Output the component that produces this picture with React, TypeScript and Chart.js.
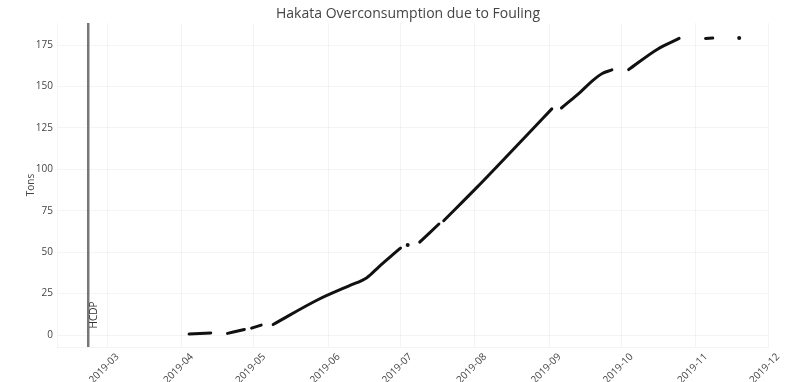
import React, { useEffect, useRef } from 'react';
import { Chart, registerables } from 'chart.js';

Chart.register(...registerables);

const TITLE = 'Hakata Overconsumption due to Fouling';
const Y_LABEL = 'Tons';
const MARKER_DATE = '2019-02-21';
const MARKER_LABEL = 'HCDP';

// Cumulative overconsumption readings; null marks a break in the record.
const dates = [
  '2019-04-04', '2019-04-13', '2019-04-16',
  '2019-04-20', '2019-04-27', '2019-04-28',
  '2019-04-30', '2019-05-04', '2019-05-06',
  '2019-05-09', '2019-05-28', '2019-06-10', '2019-06-17', '2019-06-22', '2019-06-29', '2019-07-01', '2019-07-02',
  '2019-07-04', '2019-07-06',
  '2019-07-09', '2019-07-17', '2019-07-18',
  '2019-07-19', '2019-08-02', '2019-08-21', '2019-09-02', '2019-09-04',
  '2019-09-06', '2019-09-14', '2019-09-19', '2019-09-23', '2019-09-27', '2019-09-30',
  '2019-10-04', '2019-10-16', '2019-10-25', '2019-10-30',
  '2019-11-05', '2019-11-08', '2019-11-12',
  '2019-11-19',
];
const tons: (number | null)[] = [
  0.6, 1.3, null,
  1.0, 3.4, null,
  4.2, 6.0, null,
  6.4, 21.6, 30.0, 34.6, 41.2, 50.0, 52.5, null,
  54.3, null,
  56.1, 67.0, null,
  69.0, 89.4, 118.2, 136.5, null,
  137.0, 146.8, 153.5, 157.8, 160.0, null,
  160.2, 172.5, 179.0, null,
  179.0, 179.2, null,
  179.3,
];

const monthTicks = [
  '2019-03-01', '2019-04-01', '2019-05-01', '2019-06-01', '2019-07-01',
  '2019-08-01', '2019-09-01', '2019-10-01', '2019-11-01', '2019-12-01',
];
const monthLabels = [
  '2019-03', '2019-04', '2019-05', '2019-06', '2019-07',
  '2019-08', '2019-09', '2019-10', '2019-11', '2019-12',
];
const yTicks = [0, 25, 50, 75, 100, 125, 150, 175];

const X_MIN = '2019-02-08';
const X_MAX = '2019-12-01';
const Y_MIN = -7.2;
const Y_MAX = 188.3;

// Days since 2019-01-01 for an ISO date string.
const dayNum = (s: string) => {
  const [y, m, d] = s.split('-').map(Number);
  return (Date.UTC(y, m - 1, d) - Date.UTC(2019, 0, 1)) / 86400000;
};

const FONT = '"Open Sans", "DejaVu Sans", sans-serif';
const TEXT = '#444';
const GRID = 'rgba(0,0,0,0.045)';

const overlay = {
  id: 'overlay',
  afterDatasetsDraw(chart: any) {
    const { ctx, chartArea, scales } = chart;
    const mx = scales.x.getPixelForValue(dayNum(MARKER_DATE));
    ctx.save();
    // marker line
    ctx.strokeStyle = '#777';
    ctx.lineWidth = 2.5;
    ctx.beginPath();
    ctx.moveTo(mx, chartArea.top);
    ctx.lineTo(mx, chartArea.bottom);
    ctx.stroke();
    // marker label
    ctx.fillStyle = '#333';
    ctx.font = `10px ${FONT}`;
    ctx.textAlign = 'center';
    ctx.textBaseline = 'middle';
    ctx.translate(mx + 6, 315);
    ctx.rotate(-Math.PI / 2);
    ctx.fillText(MARKER_LABEL, 0, 0);
    ctx.restore();

    ctx.save();
    // title
    ctx.fillStyle = TEXT;
    ctx.font = `14px ${FONT}`;
    ctx.textAlign = 'center';
    ctx.textBaseline = 'middle';
    ctx.fillText(TITLE, 408, 14);
    // y-axis title
    ctx.font = `10px ${FONT}`;
    ctx.translate(31, (chartArea.top + chartArea.bottom) / 2);
    ctx.rotate(-Math.PI / 2);
    ctx.fillText(Y_LABEL, 0, 0);
    ctx.restore();
  },
};

export default function App() {
  const ref = useRef<HTMLCanvasElement>(null);

  useEffect(() => {
    if (!ref.current) return;
    const points = dates.map((d, i) => ({ x: dayNum(d), y: tons[i] }));
    const monthValues = monthTicks.map(dayNum);

    const chart = new Chart(ref.current, {
      type: 'line',
      data: {
        datasets: [
          {
            data: points as any,
            borderColor: '#111',
            backgroundColor: '#111',
            borderWidth: 3,
            borderCapStyle: 'round',
            borderJoinStyle: 'round',
            spanGaps: false,
            cubicInterpolationMode: 'monotone',
            // lone readings between gaps show as dots
            pointRadius: (c: any) => {
              const i = c.dataIndex;
              const prev = i > 0 ? tons[i - 1] : null;
              const next = i < tons.length - 1 ? tons[i + 1] : null;
              return tons[i] !== null && prev === null && next === null ? 2 : 0;
            },
            pointBorderWidth: 0,
          },
        ],
      },
      options: {
        animation: false,
        responsive: false,
        devicePixelRatio: 1,
        layout: { padding: { top: 23, right: 21, left: 0, bottom: 0 } },
        plugins: {
          legend: { display: false },
          title: { display: false },
          tooltip: { enabled: false },
        },
        scales: {
          x: {
            type: 'linear',
            min: dayNum(X_MIN),
            max: dayNum(X_MAX),
            afterBuildTicks: (s: any) => {
              s.ticks = monthValues.map((v) => ({ value: v }));
            },
            afterFit: (s: any) => {
              s.height = 35;
              s.paddingLeft = 0;
              s.paddingRight = 0;
            },
            grid: { color: GRID, drawTicks: false },
            border: { display: true, color: GRID },
            ticks: {
              autoSkip: false,
              minRotation: 45,
              maxRotation: 45,
              padding: 4,
              labelOffset: 10,
              color: TEXT,
              font: { family: FONT, size: 10 },
              callback: (v: any) => {
                const i = monthValues.indexOf(Number(v));
                return i >= 0 ? monthLabels[i] : '';
              },
            },
          },
          y: {
            min: Y_MIN,
            max: Y_MAX,
            afterBuildTicks: (s: any) => {
              s.ticks = yTicks.map((v) => ({ value: v }));
            },
            afterFit: (s: any) => {
              s.width = 57;
            },
            grid: { color: GRID, drawTicks: false },
            border: { display: true, color: GRID },
            ticks: {
              padding: 4,
              color: TEXT,
              font: { family: FONT, size: 10 },
              callback: (v: any) => String(v),
            },
          },
        },
      },
      plugins: [overlay],
    });
    return () => chart.destroy();
  }, []);

  return (
    <div style={{ position: 'fixed', left: 0, top: 0, width: 789, height: 382, background: '#fff' }}>
      <canvas ref={ref} width={789} height={382} />
    </div>
  );
}
